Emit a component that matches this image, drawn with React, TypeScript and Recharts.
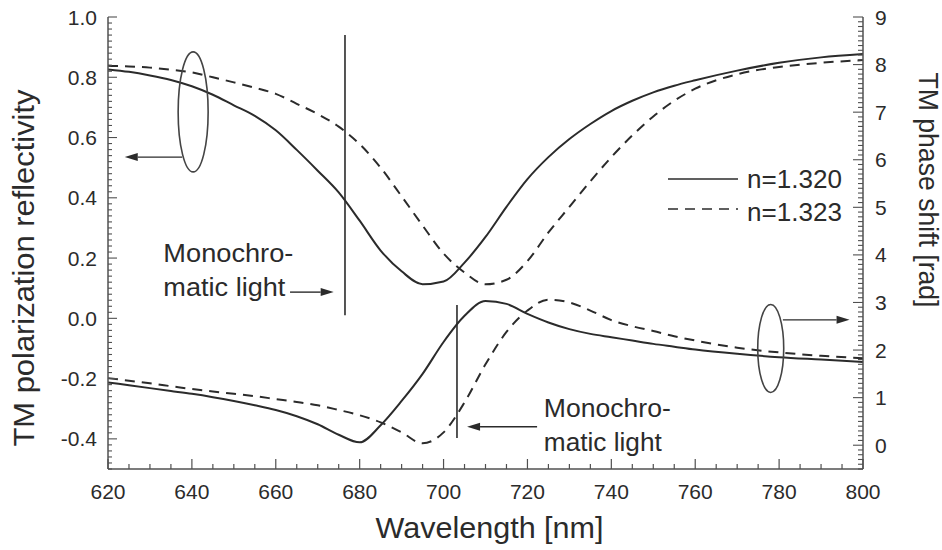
import React from "react";
import {
  Label,
  Legend,
  Line,
  LineChart,
  ReferenceDot,
  ReferenceLine,
  XAxis,
  YAxis,
} from "recharts";

// wavelength grid [nm]
const wavelength = [620, 625, 630, 635, 640, 645, 650, 655, 660, 665, 670, 675, 680, 685, 690, 695, 700, 705, 710, 715, 720, 725, 730, 735, 740, 745, 750, 755, 760, 770, 780, 790, 800];
// TM reflectivity (left axis)
const reflN1320 = [0.826, 0.818, 0.806, 0.791, 0.77, 0.742, 0.707, 0.672, 0.624, 0.559, 0.49, 0.418, 0.324, 0.225, 0.156, 0.113, 0.122, 0.185, 0.27, 0.37, 0.462, 0.535, 0.595, 0.645, 0.688, 0.722, 0.75, 0.772, 0.79, 0.822, 0.848, 0.866, 0.877];
const reflN1323 = [0.838, 0.836, 0.832, 0.825, 0.816, 0.8, 0.783, 0.765, 0.745, 0.712, 0.678, 0.636, 0.578, 0.5, 0.405, 0.308, 0.215, 0.152, 0.113, 0.128, 0.19, 0.285, 0.37, 0.455, 0.535, 0.607, 0.67, 0.722, 0.762, 0.81, 0.834, 0.848, 0.857];
// TM phase shift [rad] (right axis)
const phaseN1320 = [1.32, 1.26, 1.2, 1.14, 1.08, 1.01, 0.93, 0.84, 0.74, 0.61, 0.44, 0.22, 0.06, 0.42, 0.93, 1.5, 2.17, 2.72, 3.03, 2.97, 2.76, 2.58, 2.44, 2.34, 2.27, 2.2, 2.13, 2.07, 2.01, 1.92, 1.85, 1.8, 1.75];
const phaseN1323 = [1.41, 1.355, 1.3, 1.24, 1.18, 1.13, 1.08, 1.03, 0.97, 0.91, 0.84, 0.74, 0.63, 0.48, 0.27, 0.04, 0.27, 0.9, 1.7, 2.38, 2.83, 3.06, 3.0, 2.83, 2.63, 2.5, 2.4, 2.29, 2.2, 2.05, 1.95, 1.88, 1.83];

const xLabels = [620, 640, 660, 680, 700, 720, 740, 760, 780, 800];
const leftLabels = [-0.4, -0.2, 0, 0.2, 0.4, 0.6, 0.8, 1.0];
const rightLabels = [0, 1, 2, 3, 4, 5, 6, 7, 8, 9];

// minor tick positions
const steps = (from: number, to: number, step: number) => {
  const out: number[] = [];
  const n = Math.round((to - from) / step);
  for (let k = 0; k <= n; k++) out.push(Math.round((from + k * step) * 100) / 100);
  return out;
};
const xTicks = steps(620, 800, 5);
const leftTicks = steps(-0.5, 1.0, 0.02);
const rightTicks = steps(-0.5, 9, 0.1);

const data = wavelength.map((w, i) => ({
  w,
  r1: reflN1320[i],
  r2: reflN1323[i],
  p1: phaseN1320[i],
  p2: phaseN1323[i],
}));

const INK = "#2b2b2b";
const AXIS = "#505050";
const FONT = '"Liberation Sans", Arial, Helvetica, sans-serif';
const DASH = "10 7";

const XTick = ({ x, y, payload }: any) => {
  const major = xLabels.includes(payload.value);
  return (
    <g>
      <line x1={x} x2={x} y1={y} y2={y - (major ? 10 : 5)} stroke={AXIS} strokeWidth={1.2} />
      {major && (
        <text x={x} y={y + 30} textAnchor="middle" fontSize={21} fill={INK} fontFamily={FONT}>
          {payload.value}
        </text>
      )}
    </g>
  );
};

const LeftTick = ({ x, y, payload }: any) => {
  const major = leftLabels.includes(payload.value);
  return (
    <g>
      <line x1={x} x2={x + (major ? 9 : 4)} y1={y} y2={y} stroke={AXIS} strokeWidth={1.1} />
      {major && (
        <text x={x - 11} y={y} dy="0.36em" textAnchor="end" fontSize={21} fill={INK} fontFamily={FONT}>
          {payload.value.toFixed(1)}
        </text>
      )}
    </g>
  );
};

const RightTick = ({ x, y, payload }: any) => {
  const major = rightLabels.includes(payload.value);
  return (
    <g>
      <line x1={x} x2={x - (major ? 10 : 5)} y1={y} y2={y} stroke={AXIS} strokeWidth={1.1} />
      {major && (
        <text x={x + 12} y={y} dy="0.36em" textAnchor="start" fontSize={21} fill={INK} fontFamily={FONT}>
          {payload.value}
        </text>
      )}
    </g>
  );
};

const Title = ({ text, x, y, angle, size, len }: any) => (
  <text
    x={x}
    y={y}
    transform={angle ? `rotate(${angle} ${x} ${y})` : undefined}
    textAnchor="middle"
    dominantBaseline="central"
    fontSize={size}
    fill={INK}
    fontFamily={FONT}
    textLength={len}
    lengthAdjust="spacingAndGlyphs"
  >
    {text}
  </text>
);

const Arrow = (p: any) => {
  const { x1, y1, x2, y2 } = p;
  const a = Math.atan2(y2 - y1, x2 - x1);
  const L = 13;
  const W = 4;
  const bx = x2 - L * Math.cos(a);
  const by = y2 - L * Math.sin(a);
  const pts = `${x2},${y2} ${bx - W * Math.sin(a)},${by + W * Math.cos(a)} ${bx + W * Math.sin(a)},${by - W * Math.cos(a)}`;
  return (
    <g>
      <line x1={x1} y1={y1} x2={bx} y2={by} stroke={INK} strokeWidth={1.4} />
      <polygon points={pts} fill={INK} />
    </g>
  );
};

const ellipseShape = (rx: number, ry: number) => (p: any) =>
  <ellipse cx={p.cx} cy={p.cy} rx={rx} ry={ry} fill="none" stroke="#444" strokeWidth={1.6} />;

const noteShape = (lines: string[], lens: number[]) => (p: any) => (
  <g>
    {lines.map((t, i) => (
      <text
        key={t}
        x={p.cx}
        y={p.cy + i * 34}
        fontSize={26}
        fill={INK}
        fontFamily={FONT}
        textLength={lens[i]}
        lengthAdjust="spacingAndGlyphs"
      >
        {t}
      </text>
    ))}
  </g>
);

const LegendBox = ({ payload }: any) => {
  const items = (payload || []).filter((e: any) => e.type !== "none");
  return (
    <svg width={200} height={75} style={{ display: "block" }}>
      {items.map((e: any, i: number) => (
        <g key={e.value}>
          <line
            x1={8}
            x2={78}
            y1={19 + i * 30}
            y2={19 + i * 30}
            stroke={INK}
            strokeWidth={1.6}
            strokeDasharray={e.payload?.strokeDasharray}
          />
          <text x={87} y={28 + i * 33} fontSize={26} fill={INK} fontFamily={FONT} textLength={95} lengthAdjust="spacingAndGlyphs">
            {e.value}
          </text>
        </g>
      ))}
    </svg>
  );
};

export default function App() {
  return (
    <>
      <style>{"body{margin:0;background:#fff}"}</style>
      <LineChart width={942} height={550} data={data} margin={{ top: 17, right: 0, bottom: 0, left: 0 }}>
        <XAxis
          dataKey="w"
          type="number"
          domain={[620, 800]}
          ticks={xTicks}
          interval={0}
          height={81}
          tickSize={0}
          tickMargin={0}
          tickLine={false}
          tick={XTick}
          axisLine={{ stroke: AXIS, strokeWidth: 1.5 }}
        >
          <Label
            content={(p: any) => (
              <Title
                text="Wavelength [nm]"
                x={p.viewBox.x + p.viewBox.width / 2 + 4}
                y={p.viewBox.y + 58}
                size={30}
                len={228}
              />
            )}
          />
        </XAxis>
        <XAxis
          xAxisId="top"
          orientation="top"
          type="number"
          domain={[620, 800]}
          height={0}
          tick={false}
          tickLine={false}
          axisLine={{ stroke: AXIS, strokeWidth: 1.5 }}
        />
        <YAxis
          yAxisId="left"
          type="number"
          domain={[-0.5, 1]}
          ticks={leftTicks}
          interval={0}
          width={108}
          tickSize={0}
          tickMargin={0}
          tickLine={false}
          tick={LeftTick}
          axisLine={{ stroke: AXIS, strokeWidth: 1.5 }}
        >
          <Label
            content={(p: any) => (
              <Title
                text="TM polarization reflectivity"
                x={p.viewBox.x + 24}
                y={p.viewBox.y + p.viewBox.height / 2 + 25}
                angle={-90}
                size={29}
                len={357}
              />
            )}
          />
        </YAxis>
        <YAxis
          yAxisId="right"
          orientation="right"
          type="number"
          domain={[-0.5, 9]}
          ticks={rightTicks}
          interval={0}
          width={79}
          tickSize={0}
          tickMargin={0}
          tickLine={false}
          tick={RightTick}
          axisLine={{ stroke: AXIS, strokeWidth: 1.5 }}
        >
          <Label
            content={(p: any) => (
              <Title
                text="TM phase shift [rad]"
                x={p.viewBox.x + 65}
                y={p.viewBox.y + 173}
                angle={90}
                size={28}
                len={235}
              />
            )}
          />
        </YAxis>

        <Legend
          layout="vertical"
          align="center"
          verticalAlign="middle"
          content={LegendBox}
          wrapperStyle={{ left: 660, top: 160, width: 200, height: 75 }}
        />

        {/* monochromatic light markers */}
        <ReferenceLine
          yAxisId="left"
          segment={[{ x: 676.5, y: 0.94 }, { x: 676.5, y: 0.01 }]}
          stroke={INK}
          strokeWidth={1.6}
        />
        <ReferenceLine
          yAxisId="left"
          segment={[{ x: 703.2, y: 0.044 }, { x: 703.2, y: -0.397 }]}
          stroke={INK}
          strokeWidth={1.6}
        />
        <ReferenceLine yAxisId="left" segment={[{ x: 663.4, y: 0.087 }, { x: 673.8, y: 0.087 }]} shape={Arrow} />
        <ReferenceLine yAxisId="left" segment={[{ x: 722.3, y: -0.36 }, { x: 705.6, y: -0.36 }]} shape={Arrow} />
        <ReferenceLine yAxisId="left" segment={[{ x: 637.7, y: 0.535 }, { x: 624, y: 0.535 }]} shape={Arrow} />
        <ReferenceLine yAxisId="left" segment={[{ x: 780.9, y: -0.005 }, { x: 796.8, y: -0.005 }]} shape={Arrow} />

        <ReferenceDot yAxisId="left" x={640.3} y={0.685} shape={ellipseShape(15, 60)} />
        <ReferenceDot yAxisId="left" x={778} y={-0.1} shape={ellipseShape(13, 44)} />

        <ReferenceDot yAxisId="left" x={633.2} y={0.187} shape={noteShape(["Monochro-", "matic light"], [130, 122])} />
        <ReferenceDot yAxisId="left" x={723.9} y={-0.327} shape={noteShape(["Monochro-", "matic light"], [127, 118])} />

        <Line yAxisId="left" dataKey="r1" name="n=1.320" type="monotone" stroke={INK} strokeWidth={2} dot={false} isAnimationActive={false} />
        <Line yAxisId="left" dataKey="r2" name="n=1.323" type="monotone" stroke={INK} strokeWidth={2} strokeDasharray={DASH} dot={false} isAnimationActive={false} />
        <Line yAxisId="right" dataKey="p1" legendType="none" type="monotone" stroke={INK} strokeWidth={2} dot={false} isAnimationActive={false} />
        <Line yAxisId="right" dataKey="p2" legendType="none" type="monotone" stroke={INK} strokeWidth={2} strokeDasharray={DASH} dot={false} isAnimationActive={false} />
      </LineChart>
    </>
  );
}
